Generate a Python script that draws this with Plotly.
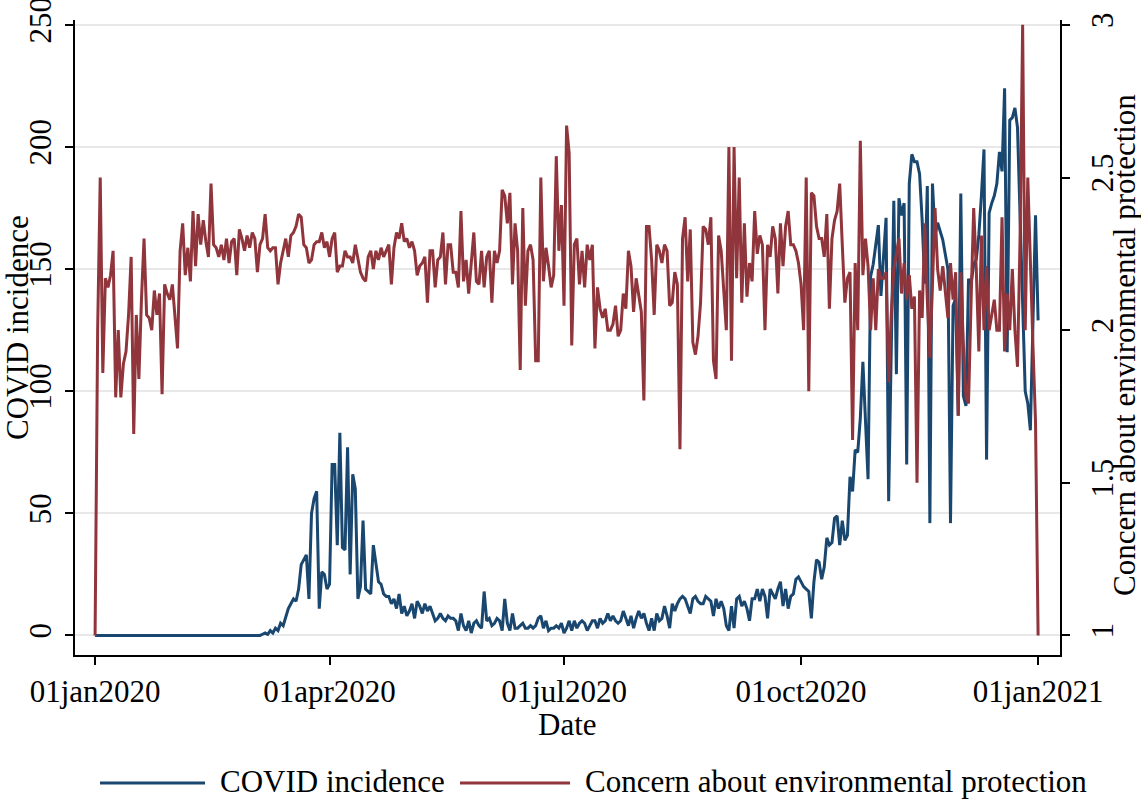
import pandas as pd
import plotly.graph_objects as go

# ---- data (daily, 01jan2020 .. 01jan2021) ----
start_date = "2020-01-01"

covid_incidence = (
    [0] * 61 +  # 01jan - 01mar
    [0, 0, 0, 0, 0.5, 1, 0.5, 2, 1, 3,
     2, 5, 4, 8, 11, 13, 15, 14, 19, 29,
     31, 33, 15, 50, 56, 59, 11, 26, 25, 19,
     21,
     70, 70, 37, 83, 36, 35, 77, 25, 66, 60,
     15, 20, 47, 19, 18, 17, 37, 29, 22, 21,
     17, 16, 16, 13, 15, 11, 17, 9, 12, 8,
     10,
     13, 7, 14, 12, 9, 13, 10, 12, 9, 6,
     7, 9, 7, 6, 8, 7, 7, 6, 2, 9,
     4, 2, 6, 1, 5, 6, 4, 3, 18, 6,
     7, 4, 5, 7, 6, 2, 15, 5, 2, 9,
     3, 3, 4, 5, 3, 3, 4, 3, 4, 7,
     8, 3, 6, 2, 3, 3, 4, 3, 5, 1,
     3,
     6, 2, 6, 3, 5, 6, 5, 2, 4, 6,
     6, 3, 7, 5, 6, 9, 6, 8, 6, 5,
     6, 10, 7, 4, 8, 3, 7, 10, 7, 9,
     5,
     2, 7, 2, 9, 6, 7, 12, 8, 3, 13,
     10, 13, 15, 16, 15, 12, 9, 15, 16, 14,
     13, 13, 16, 15, 14, 8, 15, 11, 14, 11,
     4,
     2, 12, 3, 15, 16, 12, 14, 11, 6, 15,
     15, 19, 14, 19, 16, 7, 19, 17, 15, 19,
     22, 12, 19, 11, 16, 17, 23, 24, 22, 20,
     19, 18, 7, 22, 31, 30, 23, 28, 40, 37,
     38, 48, 49, 37, 47, 39, 41, 65, 59, 76,
     75, 89, 112, 88, 64, 147, 152, 160, 168, 139,
     157,
     171, 55, 120, 178, 107, 179, 172, 177, 70, 185,
     197, 194, 194, 189, 170, 144, 184, 46, 185, 164,
     169, 165, 162, 156, 150, 46, 135, 138, 90, 181,
     98, 94, 146, 144, 152, 154, 164, 180, 199, 72,
     173, 177, 180, 185, 198, 190, 224, 116, 211, 212,
     216, 208, 170, 130, 100, 95, 84, 128, 172, 129]
)

concern_env = [
    1.0, 2.0, 2.5, 1.86, 2.17, 2.14, 2.18, 2.26, 1.78, 2.0,
    1.78, 1.89, 1.93, 2.05, 2.24, 1.66, 2.05, 1.84, 2.1, 2.30,
    2.05, 2.04, 2.0, 2.13, 2.05, 2.12, 1.79, 2.15, 2.12, 2.10,
    2.15, 2.05, 1.94, 2.26, 2.35, 2.18, 2.27, 2.16, 2.39, 2.21,
    2.38, 2.28, 2.36, 2.29, 2.24, 2.48, 2.28, 2.27, 2.24, 2.28,
    2.23, 2.30, 2.22, 2.29, 2.30, 2.18, 2.33, 2.30, 2.26, 2.31,
    2.27,
    2.32, 2.30, 2.19, 2.28, 2.30, 2.38, 2.27, 2.26, 2.27, 2.27,
    2.15, 2.22, 2.26, 2.30, 2.24, 2.31, 2.32, 2.34, 2.38, 2.37,
    2.28, 2.27, 2.22, 2.23, 2.28, 2.29, 2.29, 2.32, 2.27, 2.29,
    2.24,
    2.30, 2.32, 2.19, 2.21, 2.21, 2.26, 2.24, 2.24, 2.22, 2.28,
    2.23, 2.19, 2.17, 2.16, 2.24, 2.26, 2.20, 2.26, 2.23, 2.27,
    2.24, 2.26, 2.28, 2.15, 2.27, 2.32, 2.30, 2.35, 2.29, 2.30,
    2.27,
    2.29, 2.26, 2.18, 2.21, 2.22, 2.24, 2.09, 2.26, 2.26, 2.14,
    2.23, 2.24, 2.32, 2.15, 2.28, 2.28, 2.19, 2.19, 2.14, 2.39,
    2.16, 2.23, 2.12, 2.23, 2.32, 2.16, 2.15, 2.26, 2.14, 2.24,
    2.26, 2.09, 2.26, 2.22, 2.26, 2.46, 2.44, 2.35, 2.45, 2.15,
    2.35, 2.26, 1.87, 2.40, 2.08, 2.26, 2.28, 2.23, 1.90, 1.90,
    2.50, 2.16, 2.27, 2.21, 2.14, 2.18, 2.57, 2.26, 2.41, 2.08,
    2.67,
    2.58, 1.95, 2.28, 2.30, 2.15, 2.26, 2.14, 2.28, 2.23, 2.28,
    1.94, 2.14, 2.07, 2.04, 2.07, 2.0, 2.0, 2.02, 2.08, 1.98,
    2.0, 2.12, 2.07, 2.26, 2.21, 2.06, 2.17, 2.11, 2.06, 1.77,
    2.34,
    2.34, 2.23, 2.05, 2.28, 2.26, 2.22, 2.28, 2.26, 2.08, 2.09,
    2.19, 2.15, 1.61, 2.30, 2.37, 2.16, 2.33, 1.96, 1.92, 1.98,
    2.09, 2.34, 2.33, 2.28, 2.37, 1.90, 1.84, 2.31, 2.26, 2.14,
    2.0,
    2.60, 1.90, 2.60, 2.17, 2.50, 2.09, 2.35, 2.11, 2.22, 2.16,
    2.39, 2.25, 2.31, 2.28, 2.0, 2.28, 2.24, 2.34, 2.30, 2.12,
    2.35, 2.21, 2.34, 2.39, 2.28, 2.28, 2.26, 2.22, 2.15, 2.0,
    2.50, 1.80, 2.45, 2.44, 2.34, 2.30, 2.30, 2.24, 2.38, 2.07,
    2.30, 2.36, 2.39, 2.48, 2.28, 2.09, 2.17, 2.19, 1.64, 2.22,
    2.0, 2.62, 2.18, 2.30, 2.21, 2.0, 2.17, 2.0, 2.20, 2.17,
    2.17,
    2.19, 1.83, 2.05, 2.20, 2.25, 2.30, 2.12, 2.22, 2.10, 2.18,
    2.07, 2.11, 1.50, 2.13, 2.04, 2.35, 2.1, 1.91, 2.15, 2.40,
    2.2, 2.13, 2.21, 2.13, 2.04, 2.22, 2.10, 2.19, 1.72, 2.19,
    1.95, 1.78, 1.76, 2.1, 2.40, 2.2, 1.93, 2.31, 2.0, 2.21,
    2.0, 2.05, 2.10, 2.0, 2.0, 2.37, 1.93, 2.12, 2.0, 2.2,
    2.0, 1.88, 2.3, 3.0, 2.0, 2.5, 2.2, 1.95, 1.7, 1.0,
]

x_tick_vals = ["2020-01-01", "2020-04-01", "2020-07-01", "2020-10-01", "2021-01-01"]
x_tick_text = ["01jan2020", "01apr2020", "01jul2020", "01oct2020", "01jan2021"]
y_left_ticks = [0, 50, 100, 150, 200, 250]
y_right_ticks = [1, 1.5, 2, 2.5, 3]
y_right_text = ["1", "1.5", "2", "2.5", "3"]

series_names = ["COVID incidence", "Concern about environmental protection"]
x_title = "Date"
BLUE = "#1a476f"
RED = "#90353b"
FONT = "Liberation Serif"
FS = 31

dates_covid = pd.date_range(start_date, periods=len(covid_incidence), freq="D")
dates_concern = pd.date_range(start_date, periods=len(concern_env), freq="D")

fig = go.Figure()
fig.add_trace(go.Scatter(x=dates_covid, y=covid_incidence, mode="lines",
                         name=series_names[0], line=dict(color=BLUE, width=3),
                         yaxis="y"))
fig.add_trace(go.Scatter(x=dates_concern, y=concern_env, mode="lines",
                         name=series_names[1], line=dict(color=RED, width=3),
                         yaxis="y2"))

W, H = 1141, 799
L, R, T, B = 75, 81, 20, 144

axis_common = dict(
    ticks="outside", ticklen=8, tickwidth=1.5, tickcolor="black",
    showline=True, linecolor="black", linewidth=1.5,
    zeroline=False, automargin=False, ticklabeloverflow="allow",
    tickfont=dict(family=FONT, size=FS, color="black"),
)

fig.update_layout(
    width=W, height=H,
    margin=dict(l=L, r=R, t=T, b=B, pad=0, autoexpand=False),
    paper_bgcolor="white", plot_bgcolor="white",
    font=dict(family=FONT, size=FS, color="black"),
    showlegend=False,
    xaxis=dict(
        type="date",
        range=["2019-12-24 05:00", "2021-01-09 12:00"],
        tickmode="array", tickvals=x_tick_vals, ticktext=x_tick_text,
        showgrid=False, ticklabelstandoff=0,
        **axis_common,
    ),
    yaxis=dict(
        range=[-8, 252],
        tickmode="array", tickvals=y_left_ticks,
        tickangle=-90, ticklabelstandoff=2,
        showgrid=True, gridcolor="#e8e8e8", gridwidth=2,
        **axis_common,
    ),
    yaxis2=dict(
        range=[1 - 8 / 125, 3 + 2 / 125],
        overlaying="y", side="right", anchor="x",
        tickmode="array", tickvals=y_right_ticks, ticktext=y_right_text,
        tickangle=-90, ticklabelstandoff=6,
        showgrid=False,
        **axis_common,
    ),
)

pw = W - L - R
ph = H - T - B
def px_x(p):
    return (p - L) / pw
def px_y(p):
    return (H - B - p) / ph

# axis titles
fig.add_annotation(xref="paper", yref="paper", x=px_x(17), y=px_y(328),
                   text=series_names[0], textangle=-90, showarrow=False,
                   xanchor="center", yanchor="middle", font=dict(family=FONT, size=FS))
fig.add_annotation(xref="paper", yref="paper", x=px_x(1124), y=px_y(345),
                   text=series_names[1], textangle=-90, showarrow=False,
                   xanchor="center", yanchor="middle", font=dict(family=FONT, size=FS))
fig.add_annotation(xref="paper", yref="paper", x=px_x(567), y=px_y(724),
                   text=x_title, showarrow=False,
                   xanchor="center", yanchor="middle", font=dict(family=FONT, size=FS))

# legend drawn below the plot (keys + labels)
legend_y = 781
legend_items = [
    (100, 205, 218, series_names[0], BLUE),
    (460, 570, 583, series_names[1], RED),
]
for x0, x1, xt, label, col in legend_items:
    fig.add_shape(type="line", xref="paper", yref="paper",
                  x0=px_x(x0), x1=px_x(x1), y0=px_y(legend_y + 2), y1=px_y(legend_y + 2),
                  line=dict(color=col, width=3))
    fig.add_annotation(xref="paper", yref="paper", x=px_x(xt), y=px_y(legend_y),
                       text=label, showarrow=False, xanchor="left", yanchor="middle",
                       font=dict(family=FONT, size=FS, color="black"))

fig.write_html(
    "out.html",
    config={"displayModeBar": False},
    post_script="document.body.style.margin='0px';document.body.style.overflow='hidden';",
)
